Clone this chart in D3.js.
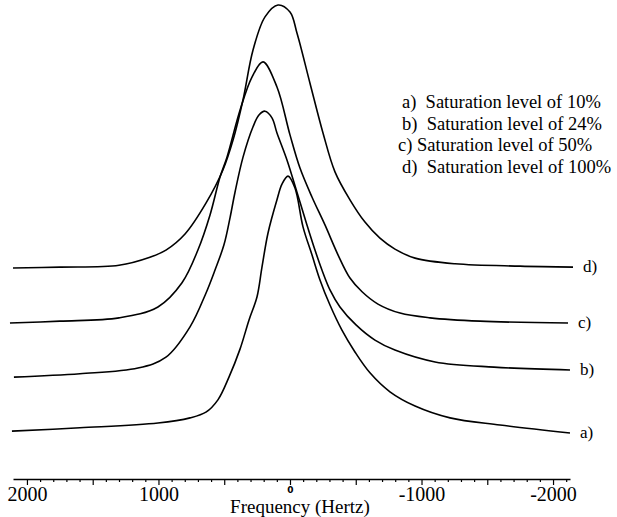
<!DOCTYPE html>
<html>
<head>
<meta charset="utf-8">
<script src="https://cdn.jsdelivr.net/npm/d3@7"></script>
<style>
  html, body { margin: 0; padding: 0; background: #fff; }
  svg { display: block; }
  text { font-family: "Liberation Serif", "Times New Roman", serif; fill: #000; }
</style>
</head>
<body>
<svg id="chart" width="617" height="517"></svg>
<script>
// ---- Data (frequency in Hz, signal in arbitrary units incl. stacking offset) ----
const seriesNames = ["a)", "b)", "c)", "d)"];
const legendLabels = [
  "a)  Saturation level of 10%",
  "b)  Saturation level of 24%",
  "c) Saturation level of 50%",
  "d)  Saturation level of 100%"
];

const freqA = [2114, 1597, 1004, 760, 639, 548, 464, 380, 312, 251, 213, 167, 99, 61, 15, -38, -99, -167, -228, -304, -395, -494, -608, -760, -951, -1217, -1597, -2129];
const sigA  = [10.1, 10.8, 11.8, 12.9, 14.1, 16.7, 21.5, 27.4, 33.5, 38.4, 44.7, 51.9, 58.9, 62.2, 63.9, 61.4, 53.2, 47.3, 42.0, 36.7, 31.4, 26.8, 22.4, 18.4, 15.4, 12.9, 11.4, 9.7];

const freqB = [2099, 1597, 1156, 943, 760, 639, 570, 502, 456, 418, 357, 281, 236, 190, 137, 99, 23, -53, -129, -190, -243, -304, -380, -502, -646, -798, -1103, -1551, -2129];
const sigB  = [21.5, 22.2, 23.4, 25.7, 32.1, 39.2, 44.1, 49.4, 55.1, 60.5, 67.9, 74.3, 76.8, 77.6, 76.2, 73.0, 67.3, 60.5, 53.6, 48.3, 44.1, 39.9, 36.3, 32.5, 29.3, 27.2, 24.7, 23.6, 23.0];

const freqC = [2129, 1749, 1300, 1004, 821, 700, 608, 532, 479, 380, 289, 205, 99, 0, -76, -167, -266, -365, -456, -548, -669, -837, -1065, -1445, -2114];
const sigC  = [32.9, 33.3, 34.0, 36.3, 41.4, 48.3, 55.7, 63.7, 67.9, 77.8, 84.8, 88.0, 82.7, 72.6, 65.6, 59.5, 53.6, 47.3, 42.4, 39.5, 36.9, 35.0, 34.0, 33.3, 32.9];

const freqD = [2106, 1749, 1300, 1065, 943, 798, 639, 510, 433, 357, 281, 190, 91, 0, -53, -152, -251, -342, -456, -570, -684, -798, -951, -1255, -1749, -2152];
const sigD  = [44.5, 44.7, 45.1, 46.8, 48.3, 51.7, 58.2, 65.2, 71.5, 80.0, 90.5, 97.5, 100, 98.5, 94.1, 83.5, 73.0, 64.8, 58.9, 54.2, 50.8, 48.5, 46.6, 45.4, 44.9, 44.7];

const minorTicks = d3.range(-2100, 2001, 100);
const labelTicks = [2000, 1000, 0, -1000, -2000];
const xAxisTitle = "Frequency (Hertz)";

const SERIF = "'Liberation Serif', 'Times New Roman', serif";

// ---- Scales ----
const svg = d3.select("#chart");
const x = d3.scaleLinear().domain([2106, -2129]).range([13, 570]);
const y = d3.scaleLinear().domain([0, 100]).range([479, 5]);

const series = [
  { name: seriesNames[0], f: freqA, v: sigA },
  { name: seriesNames[1], f: freqB, v: sigB },
  { name: seriesNames[2], f: freqC, v: sigC },
  { name: seriesNames[3], f: freqD, v: sigD }
].map(s => ({ name: s.name, pts: s.f.map((f, i) => [f, s.v[i]]) }));

const line = d3.line()
  .x(d => x(d[0]))
  .y(d => y(d[1]))
  .curve(d3.curveCatmullRom.alpha(0.5));

svg.append("g").selectAll("path")
  .data(series)
  .join("path")
  .attr("d", d => line(d.pts))
  .attr("fill", "none")
  .attr("stroke", "#000")
  .attr("stroke-width", 1.6)
  .attr("stroke-linejoin", "round");

// series end labels
svg.append("g").selectAll("text")
  .data(series)
  .join("text")
  .attr("x", d => x(d.pts[d.pts.length - 1][0]) + 10)
  .attr("y", d => y(d.pts[d.pts.length - 1][1]) + 5)
  .style("font-family", SERIF)
  .style("font-size", "17px")
  .text(d => d.name);

// ---- Axis ----
const axisG = svg.append("g")
  .attr("transform", "translate(0,479)")
  .call(d3.axisBottom(x).tickValues(minorTicks).tickSize(3).tickSizeOuter(0).tickFormat(""));
axisG.select(".domain").attr("stroke", "#000").attr("stroke-width", 1.5);
axisG.selectAll(".tick line")
  .attr("stroke", "#000")
  .attr("stroke-width", 1.2)
  .attr("y2", d => (d % 500 === 0 ? 6 : 3));

const labG = svg.append("g")
  .attr("transform", "translate(0,479)")
  .call(d3.axisBottom(x).tickValues(labelTicks).tickSize(0)
    .tickFormat(d => (d < 0 ? "-" + Math.abs(d) : String(d))));
labG.select(".domain").remove();
labG.selectAll(".tick text")
  .attr("fill", "#000")
  .attr("dy", 0)
  .attr("y", d => (d === 0 ? 14 : 22))
  .style("font-family", d => (d === 0 ? "'DejaVu Sans', sans-serif" : SERIF))
  .style("font-weight", d => (d === 0 ? "bold" : "normal"))
  .style("font-size", d => (d === 0 ? "9px" : "20px"));

svg.append("text")
  .attr("x", 300)
  .attr("y", 513)
  .attr("text-anchor", "middle")
  .style("font-family", SERIF)
  .style("font-size", "19px")
  .text(xAxisTitle);

// ---- Legend ----
const legX = [402, 402, 398, 402];
const legY = [108, 129.5, 151, 172.5];
svg.append("g").selectAll("text")
  .data(legendLabels)
  .join("text")
  .attr("x", (d, i) => legX[i])
  .attr("y", (d, i) => legY[i])
  .style("font-family", SERIF)
  .style("font-size", "18.5px")
  .style("white-space", "pre")
  .attr("xml:space", "preserve")
  .text(d => d);
</script>
</body>
</html>
